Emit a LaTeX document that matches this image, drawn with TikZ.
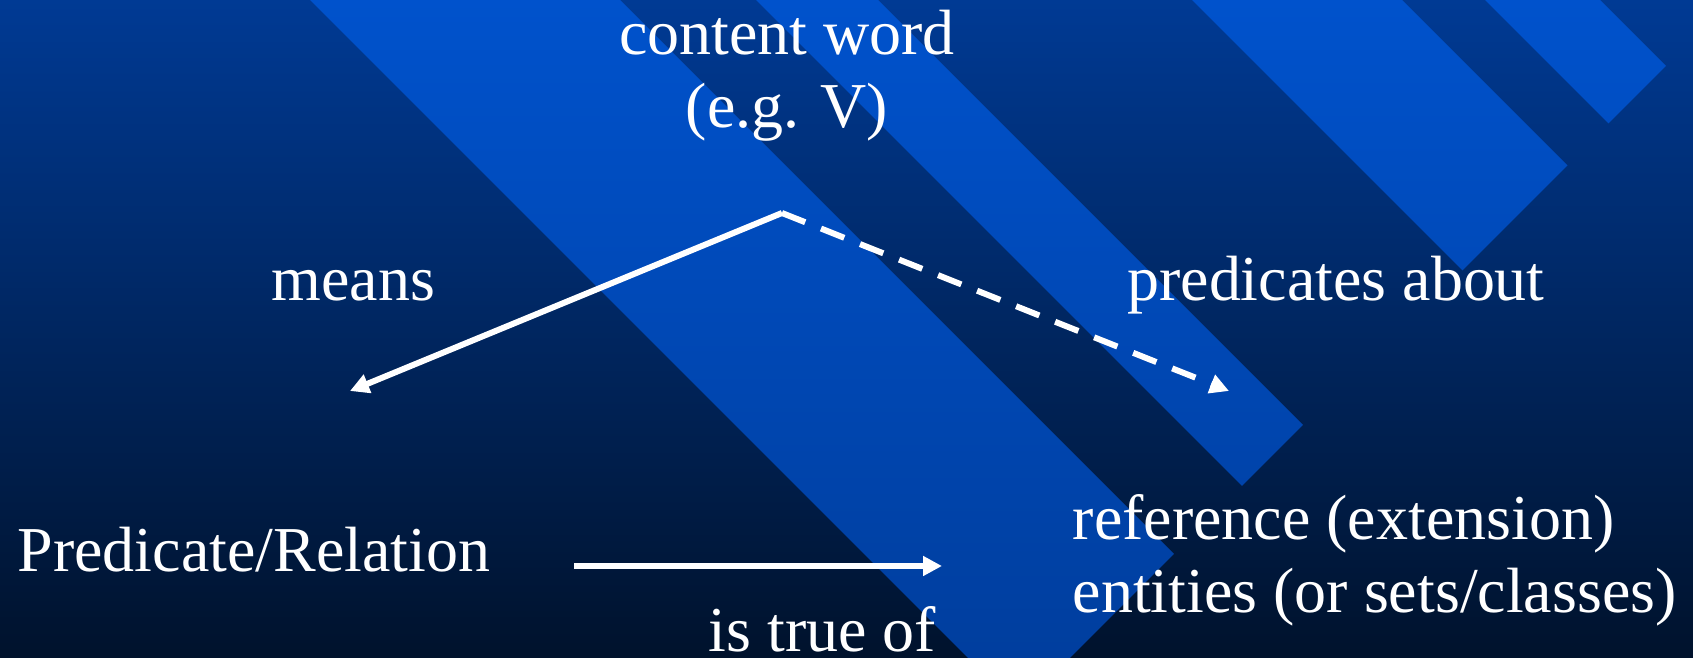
\documentclass[tikz,border=0pt]{standalone}
\usepackage{fontspec}
\setmainfont{Liberation Serif}
\usetikzlibrary{arrows.meta}

\definecolor{bgtop}{RGB}{0,58,148}
\definecolor{bgbot}{RGB}{0,18,44}
\definecolor{stripetop}{RGB}{0,82,204}
\definecolor{stripebot}{RGB}{0,62,158}

\begin{document}
\begin{tikzpicture}[
  font=\fontsize{18.2}{20.8}\selectfont,
  >={Triangle[length=1.9mm, width=1.9mm]},
  lbl/.style   ={text=white, inner sep=0pt, align=left},
  arr/.style   ={->, white, line width=1.7pt},
  dasharr/.style ={arr, dash pattern=on 2.5mm off 1.7mm},
]
\useasboundingbox (0,0) rectangle (16.93,6.58);

% ---- background and stripes ----
\shade[top color=bgtop, bottom color=bgbot] (0,0) rectangle (16.93,6.58);
\begin{scope}
  \clip (0,0) rectangle (16.93,6.58);
  \clip (3.10,6.58) -- (6.20,6.58) -- (11.74,1.04) -- (10.19,-0.51) -- cycle
        (7.56,6.58) -- (8.78,6.58) -- (13.03,2.33) -- (12.42,1.72) -- cycle
        (11.92,6.58) -- (14.02,6.58) -- (15.675,4.925) -- (14.625,3.875) -- cycle
        (14.85,6.58) -- (16.00,6.58) -- (16.66,5.92) -- (16.085,5.345) -- cycle;
  \shade[top color=stripetop, bottom color=stripebot] (0,0) rectangle (16.93,6.58);
\end{scope}

% ---- labels (base = last line) ----
\node[lbl, align=center, anchor=base] (cw)   at (7.87,5.30) {content word\\(e.g. V)};
\node[lbl, anchor=base]               (mean) at (3.535,3.57) {means};
\node[lbl, anchor=base]               (pab)  at (13.36,3.57) {predicates about};
\node[lbl, anchor=base west]          (pred) at (0.17,0.86) {Predicate/Relation};
\node[lbl, anchor=base west]          (ref)  at (10.72,0.45) {reference (extension)\\entities (or sets/classes)};
\node[lbl, anchor=base]               (tru)  at (8.225,0.06) {is true of};

% ---- arrows ----
\coordinate (apex)  at (7.82,4.45);
\coordinate (mtip)  at (3.50,2.67);
\coordinate (atip)  at (12.29,2.67);
\coordinate (hfrom) at (5.74,0.92);
\coordinate (hto)   at (9.42,0.92);

\draw[arr] (apex) -- (mtip);
\draw[dasharr] (apex) -- (atip);
\draw[arr] (hfrom) -- (hto);

\end{tikzpicture}
\end{document}
